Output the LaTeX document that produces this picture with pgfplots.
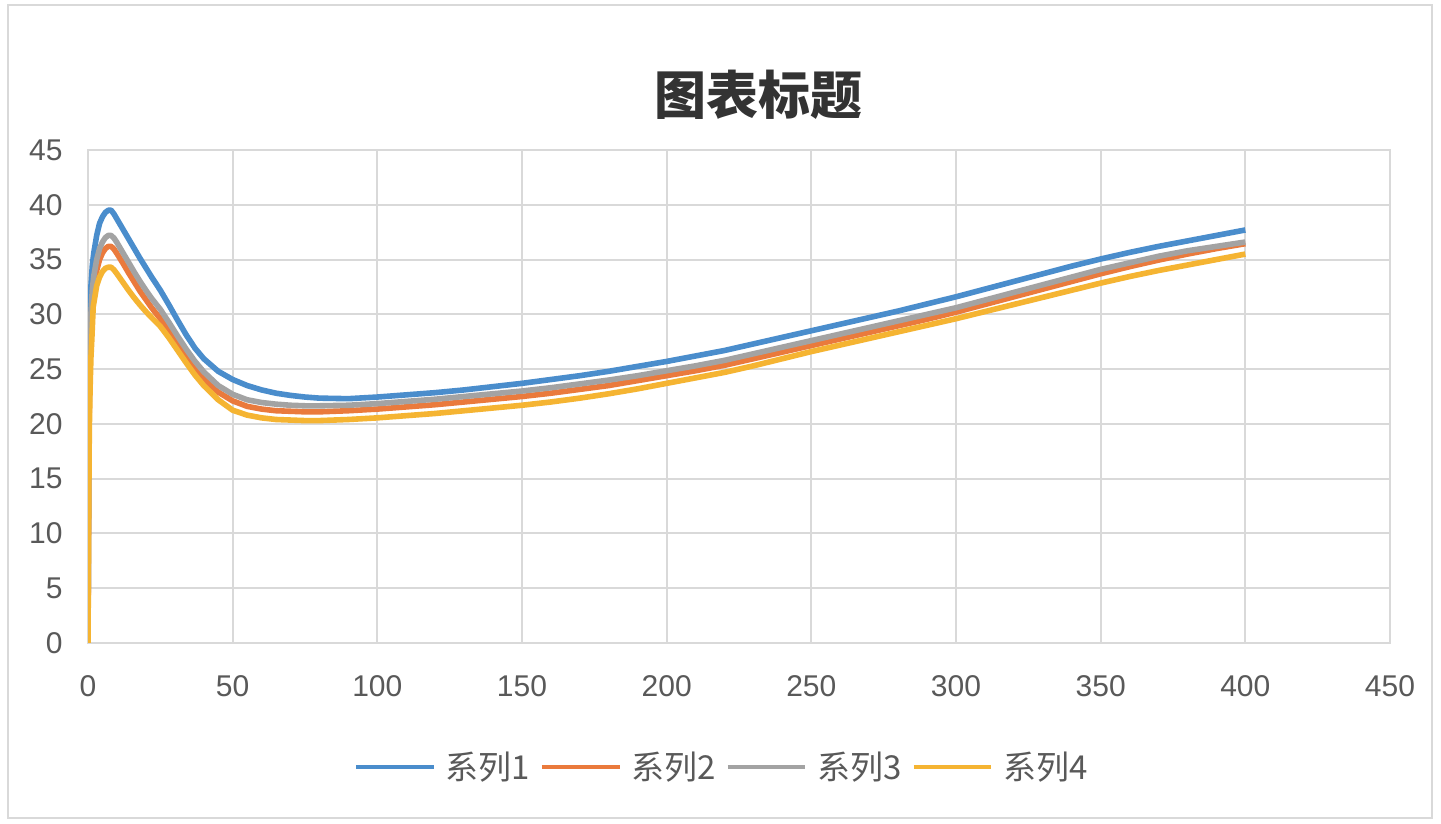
\documentclass[border=0pt]{standalone}
\usepackage{pgfplots}
\pgfplotsset{compat=1.18}
\usepackage{fontspec}
\setmainfont{Liberation Sans}
\newfontfamily\cjk{Noto Sans CJK SC}
\definecolor{s1}{HTML}{4A8DCC}
\definecolor{s2}{HTML}{EA7A3C}
\definecolor{s3}{HTML}{A3A3A3}
\definecolor{s4}{HTML}{F5B432}
\definecolor{gridc}{HTML}{D9D9D9}
\definecolor{tickc}{HTML}{595959}
\definecolor{titlec}{HTML}{333333}
\begin{document}
\begin{tikzpicture}
\useasboundingbox (0,0) rectangle (720.5pt,412pt);
\fill[white] (0,0) rectangle (720.5pt,412pt);
\draw[gridc, line width=1pt] (4pt,3pt) rectangle (716pt,409.5pt);
\node[text=titlec, font=\fontsize{26}{30}\selectfont\cjk\bfseries] at (379pt,364.5pt) {图表标题};
\begin{axis}[
  at={(44pt,90.5pt)}, anchor=south west, scale only axis,
  width=651pt, height=246.5pt,
  xmin=0, xmax=450, ymin=0, ymax=45,
  xtick={0,50,...,450}, ytick={0,5,...,45},
  grid=major, major grid style={gridc, line width=1pt},
  axis line style={gridc, line width=1pt},
  tick style={draw=none},
  ticklabel style={font=\fontsize{15}{18}\selectfont, text=tickc, inner sep=0pt},
  xticklabel style={anchor=center, yshift=-21.5pt},
  yticklabel style={anchor=east, xshift=-12.5pt},
  /pgf/number format/assume math mode=true,
  legend columns=4,
  legend style={at={(0.486,-0.2515)}, anchor=center, draw=none, fill=none, inner sep=0pt,
    font=\fontsize{16.5}{20}\selectfont\cjk, text=tickc,
    /tikz/every odd column/.append style={column sep=4.9pt},
    /tikz/every even column/.append style={column sep=4.9pt},
    nodes={inner sep=0pt}},
  legend image code/.code={\draw[#1, line width=2.2pt] (0pt,0pt) -- (38.8pt,0pt);},
  every axis plot/.append style={line width=2.8pt, line join=round},
]
\addplot[s1] coordinates {
(0,0) (0.3,22) (0.7,29) (1,32.5) (1.5,34.5) (2,35.6) (3,37.2) (4,38.3) (5,38.9) (6,39.3) (7,39.5) (8,39.5) (9,39.15) (10,38.7)
(12,37.8) (14,36.9) (16,36.0) (18,35.1) (20,34.25) (22,33.4) (25,32.2) (28,30.85) (31,29.45) (34,28.1) (37,26.9) (40,25.95)
(45,24.8) (50,24.05) (55,23.5) (60,23.1) (65,22.8) (70,22.6) (75,22.45) (80,22.35) (90,22.3) (100,22.45) (110,22.65)
(120,22.85) (130,23.1) (140,23.4) (150,23.7) (160,24.05) (170,24.4) (180,24.8) (190,25.25) (200,25.7) (210,26.2)
(220,26.7) (230,27.3) (240,27.9) (250,28.5) (260,29.1) (270,29.7) (280,30.3) (290,30.95) (300,31.6) (310,32.3)
(320,33.0) (330,33.7) (340,34.4) (350,35.05) (360,35.65) (370,36.2) (380,36.7) (390,37.2) (400,37.7)};
\addlegendentry{系列1}
\addplot[s2] coordinates {
(0,0) (0.3,19) (0.7,26) (1,29) (1.5,31.3) (2,32.6) (3,34.0) (4,35.0) (5,35.6) (6,36.0) (7,36.2) (8,36.2) (9,35.95) (10,35.55)
(12,34.7) (14,33.8) (16,32.95) (18,32.1) (20,31.35) (22,30.6) (25,29.6) (28,28.45) (31,27.25) (34,26.1) (37,25.0) (40,24.1)
(45,22.9) (50,22.1) (55,21.6) (60,21.35) (65,21.2) (70,21.15) (75,21.1) (80,21.1) (90,21.2) (100,21.35) (110,21.55)
(120,21.75) (130,22.0) (140,22.25) (150,22.5) (160,22.8) (170,23.15) (180,23.5) (190,23.95) (200,24.4) (210,24.85)
(220,25.35) (230,25.95) (240,26.55) (250,27.15) (260,27.75) (270,28.35) (280,28.95) (290,29.55) (300,30.2) (310,30.9)
(320,31.6) (330,32.3) (340,33.0) (350,33.7) (360,34.35) (370,34.95) (380,35.5) (390,36.0) (400,36.45)};
\addlegendentry{系列2}
\addplot[s3] coordinates {
(0,0) (0.3,20) (0.7,27) (1,30) (1.5,32.3) (2,33.5) (3,35.0) (4,36.0) (5,36.6) (6,37.0) (7,37.2) (8,37.2) (9,36.95) (10,36.55)
(12,35.65) (14,34.75) (16,33.85) (18,33.0) (20,32.2) (22,31.45) (25,30.45) (28,29.25) (31,28.0) (34,26.8) (37,25.7) (40,24.75)
(45,23.5) (50,22.7) (55,22.2) (60,21.95) (65,21.8) (70,21.7) (75,21.65) (80,21.65) (90,21.7) (100,21.85) (110,22.05)
(120,22.25) (130,22.5) (140,22.75) (150,23.0) (160,23.3) (170,23.65) (180,24.0) (190,24.4) (200,24.85) (210,25.3)
(220,25.8) (230,26.4) (240,27.0) (250,27.6) (260,28.2) (270,28.8) (280,29.4) (290,30.0) (300,30.6) (310,31.3)
(320,32.0) (330,32.7) (340,33.4) (350,34.1) (360,34.7) (370,35.3) (380,35.8) (390,36.2) (400,36.6)};
\addlegendentry{系列3}
\addplot[s4] coordinates {
(0,0) (0.3,14) (0.45,19.5) (0.7,23) (1,26) (1.3,27.6) (1.8,30.7) (2,31) (3,32.6) (4,33.4) (5,33.9) (6,34.2) (7,34.3) (8,34.3)
(9,34.05) (10,33.7) (12,32.95) (14,32.2) (16,31.5) (18,30.85) (20,30.25) (22,29.7) (25,28.9) (28,27.85) (31,26.7) (34,25.55)
(37,24.45) (40,23.5) (45,22.2) (50,21.25) (55,20.8) (60,20.55) (65,20.4) (70,20.35) (75,20.3) (80,20.3) (90,20.4)
(100,20.55) (110,20.75) (120,20.95) (130,21.2) (140,21.45) (150,21.7) (160,22.0) (170,22.35) (180,22.75) (190,23.2)
(200,23.7) (210,24.2) (220,24.7) (230,25.3) (240,25.95) (250,26.6) (260,27.2) (270,27.8) (280,28.4) (290,29.0)
(300,29.6) (310,30.25) (320,30.9) (330,31.55) (340,32.2) (350,32.85) (360,33.45) (370,34.0) (380,34.5) (390,35.0) (400,35.5)};
\addlegendentry{系列4}
\end{axis}
\end{tikzpicture}
\end{document}
